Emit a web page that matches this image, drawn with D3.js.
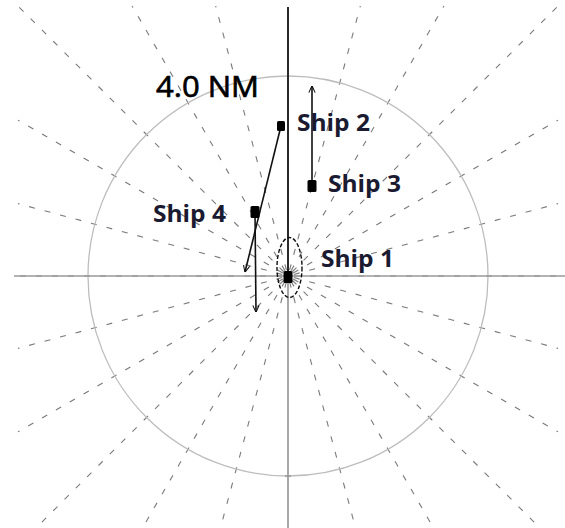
<!DOCTYPE html>
<html><head><meta charset="utf-8">
<script src="https://cdn.jsdelivr.net/npm/d3@7"></script>
<style>html,body{margin:0;padding:0;background:#fff;}svg{display:block;}</style>
</head><body>
<script>
// Data (nautical miles, x = east, y = north, own ship at origin)
const ships = ["Ship 1", "Ship 2", "Ship 3", "Ship 4"];
const shipX = [0.0, -0.14, 0.48, -0.66];
const shipY = [-0.02, 3.0, 1.8, 1.28];
const vecEndX = [null, -0.86, 0.48, -0.64];
const vecEndY = [null, 0.08, 3.8, -0.72];
const labelX = [0.66, 0.18, 0.8, -2.7];
const labelY = [0.18, 2.9, 1.68, 1.08];
const rangeRings = [4.0];
const rangeLabel = ["4.0 NM"];
const bearings = d3.range(0, 360, 15);
const ellipseC = [0.03, 0.17];
const ellipseR = [0.25, 0.6];

const W = 565, H = 528, cx0 = 288, cy0 = 276, half = 270;
const x = d3.scaleLinear().domain([-5.4, 5.4]).range([cx0 - half, cx0 + half]);
const y = d3.scaleLinear().domain([-5.4, 5.4]).range([cy0 + half, cy0 - half]);
const k = x(1) - x(0);

const svg = d3.select("body").append("svg").attr("width", W).attr("height", H);
svg.append("defs").append("marker").attr("id", "arr")
  .attr("viewBox", "0 0 10 10").attr("refX", 9.5).attr("refY", 5)
  .attr("markerWidth", 7).attr("markerHeight", 8).attr("markerUnits", "userSpaceOnUse")
  .attr("orient", "auto")
  .append("path").attr("d", "M0,0.5 L10,5 L0,9.5").attr("fill", "none")
  .attr("stroke", "#111").attr("stroke-width", 1.5);

// radial dashed bearing lines
const rmin = 0.12, rmax = 5.4;
svg.append("g").selectAll("line").data(bearings).join("line")
  .attr("x1", d => x(rmin * Math.sin(d * Math.PI / 180)))
  .attr("y1", d => y(rmin * Math.cos(d * Math.PI / 180)))
  .attr("x2", d => { const a = d * Math.PI / 180, s = Math.sin(a), c = Math.cos(a); const t = rmax / Math.max(Math.abs(s), Math.abs(c)); return x(t * s); })
  .attr("y2", d => { const a = d * Math.PI / 180, s = Math.sin(a), c = Math.cos(a); const t = rmax / Math.max(Math.abs(s), Math.abs(c)); return y(t * c); })
  .attr("stroke", "#7a7a7a").attr("stroke-width", 1.1).attr("stroke-dasharray", "6,10");

// range ring
svg.append("g").selectAll("circle").data(rangeRings).join("circle")
  .attr("cx", x(0)).attr("cy", y(0)).attr("r", d => d * k)
  .attr("fill", "none").attr("stroke", "#bdbdbd").attr("stroke-width", 1.3);

// axes
svg.append("line").attr("x1", 14).attr("x2", W).attr("y1", y(0)).attr("y2", y(0))
  .attr("stroke", "#9a9a9a").attr("stroke-width", 1.6);
svg.append("line").attr("x1", x(0)).attr("x2", x(0)).attr("y1", y(0)).attr("y2", H)
  .attr("stroke", "#a8a8a8").attr("stroke-width", 2);
svg.append("line").attr("x1", x(0)).attr("x2", x(0)).attr("y1", 7).attr("y2", y(0))
  .attr("stroke", "#2a2a2a").attr("stroke-width", 2);
svg.append("line").attr("x1", x(0) - 3).attr("x2", x(0) + 3).attr("y1", y(-4)).attr("y2", y(-4))
  .attr("stroke", "#999").attr("stroke-width", 1.5);

// ship 1 ellipse
svg.append("ellipse").attr("cx", x(ellipseC[0])).attr("cy", y(ellipseC[1]))
  .attr("rx", ellipseR[0] * k).attr("ry", ellipseR[1] * k)
  .attr("fill", "none").attr("stroke", "#111").attr("stroke-width", 1.4).attr("stroke-dasharray", "4,2");

// vectors
const idx = d3.range(ships.length).filter(i => vecEndX[i] !== null);
svg.append("g").selectAll("line").data(idx).join("line")
  .attr("x1", i => x(shipX[i])).attr("y1", i => y(shipY[i]))
  .attr("x2", i => x(vecEndX[i])).attr("y2", i => y(vecEndY[i]))
  .attr("stroke", "#111").attr("stroke-width", 1.6).attr("marker-end", "url(#arr)");

// ship markers
const mw = [9, 8, 9, 9], mh = [12, 10, 12, 12];
svg.append("g").selectAll("rect").data(d3.range(ships.length)).join("rect")
  .attr("x", i => x(shipX[i]) - mw[i] / 2).attr("y", i => y(shipY[i]) - mh[i] / 2)
  .attr("width", i => mw[i]).attr("height", i => mh[i]).attr("rx", 1.5)
  .attr("fill", "#000");

// labels
svg.append("g").selectAll("text").data(d3.range(ships.length)).join("text")
  .attr("x", i => x(labelX[i])).attr("y", i => y(labelY[i]))
  .attr("font-family", "'Open Sans', sans-serif").attr("font-weight", 700)
  .attr("font-size", 23).attr("textLength", 73).attr("lengthAdjust", "spacingAndGlyphs")
  .attr("fill", "#1a1a30").text(i => ships[i]);

svg.append("text").attr("x", x(-2.64)).attr("y", y(3.58))
  .attr("font-family", "'Open Sans', sans-serif").attr("font-size", 30)
  .attr("textLength", 103).attr("lengthAdjust", "spacingAndGlyphs")
  .attr("stroke", "#000").attr("stroke-width", 0.7)
  .attr("fill", "#000").text(rangeLabel[0]);
</script>
</body></html>
